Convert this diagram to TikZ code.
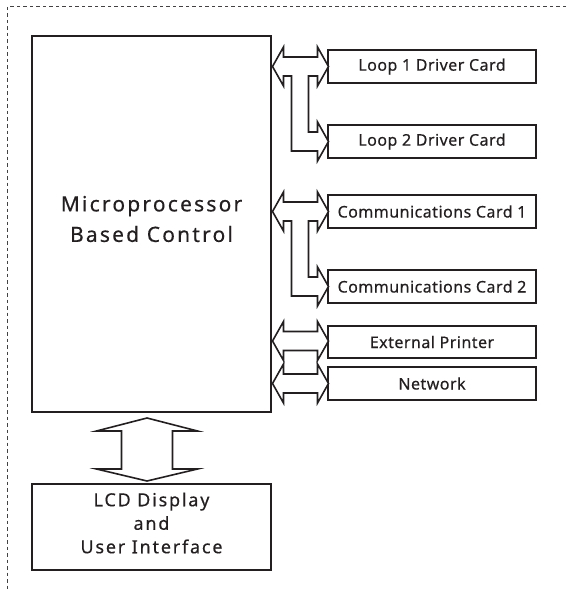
\documentclass[tikz,border=0pt]{standalone}
\usepackage{fontspec}
\setmainfont{Noto Sans}[FakeBold=0.4]
\usetikzlibrary{calc}
\definecolor{ink}{HTML}{231F20}

\tikzset{
  card/.style={draw=ink, line width=1.5pt, rectangle, minimum width=208pt, minimum height=33pt, inner sep=0pt,
    font=\fontsize{16}{18}\selectfont\addfontfeature{LetterSpace=3}},
  blockarrow/.style={draw=ink, line width=1.6pt, line join=miter, fill=white},
}

% horizontal double arrow, local origin = left tip
\newcommand{\twinarrow}[1]{
  \draw[blockarrow, shift={(#1)}] (0,0) -- (11,-19.5) -- (11,-9.5) -- (45,-9.5) -- (45,-19.5) -- (56,0)
    -- (45,19.5) -- (45,9.5) -- (11,9.5) -- (11,19.5) -- cycle;
}
% double arrow with a branch down to the next card
\newcommand{\forkarrow}[1]{
  \draw[blockarrow, shift={(#1)}] (0,0) -- (11,-19.5) -- (11,-9.5) -- (45,-9.5) -- (45,-19.5) -- (56,0)
    -- (45,19.5) -- (45,9.5) -- (36,9.5) -- (36,65.5) -- (45,65.5) -- (45,55.5) -- (56,75)
    -- (45,94.5) -- (45,84.5) -- (19,84.5) -- (19,9.5) -- (11,9.5) -- (11,19.5) -- cycle;
}

\begin{document}
\begin{tikzpicture}[x=1pt, y=-1pt, color=ink]
  \useasboundingbox (0,0) rectangle (566,591);
  \draw[ink!85, line width=1pt, dash pattern=on 3.5pt off 3pt] (566,7) -- (7,7) -- (7,591);

  \node[draw, line width=2pt, rectangle, minimum width=239pt, minimum height=376pt] (main) at (151.5,224) {};
  \node[align=center, font=\fontsize{21}{30.5}\selectfont\addfontfeature{LetterSpace=10.5}] (maintext) at (151.5,219) {Microprocessor\\Based Control};

  \node[draw, line width=2pt, rectangle, minimum width=239pt, minimum height=86pt] (lcd) at (151.5,527) {};
  \node[align=center, font=\fontsize{18}{23.5}\selectfont\addfontfeature{LetterSpace=10}] (lcdtext) at (151.5,523) {LCD Display\\and\\User Interface};

  \node[card] (loopa) at (432,66.5) {Loop 1 Driver Card};
  \node[card] (loopb) at (432,141.5) {Loop 2 Driver Card};
  \node[card] (comma) at (432,211.5) {Communications Card 1};
  \node[card] (commb) at (432,286.5) {Communications Card 2};
  \node[card, minimum height=32pt] (printer) at (432,342) {External Printer};
  \node[card] (network) at (432,383.5) {Network};

  \forkarrow{$(main.east |- loopa.west)+(0.5,0)$}
  \forkarrow{$(main.east |- comma.west)+(0.5,0)$}
  \twinarrow{$(main.east |- printer.west)+(0.5,-1)$}
  \twinarrow{$(main.east |- network.west)+(0.5,0)$}

  % link to the display
  \coordinate (linktop) at ($(main.south)+(-4.5,5)$);
  \draw[blockarrow, shift={(linktop)}] (0,0) -- (50.5,13) -- (25.5,13) -- (25.5,51) -- (50.5,51) -- (0,63)
    -- (-50.5,51) -- (-25.5,51) -- (-25.5,13) -- (-50.5,13) -- cycle;
\end{tikzpicture}
\end{document}
